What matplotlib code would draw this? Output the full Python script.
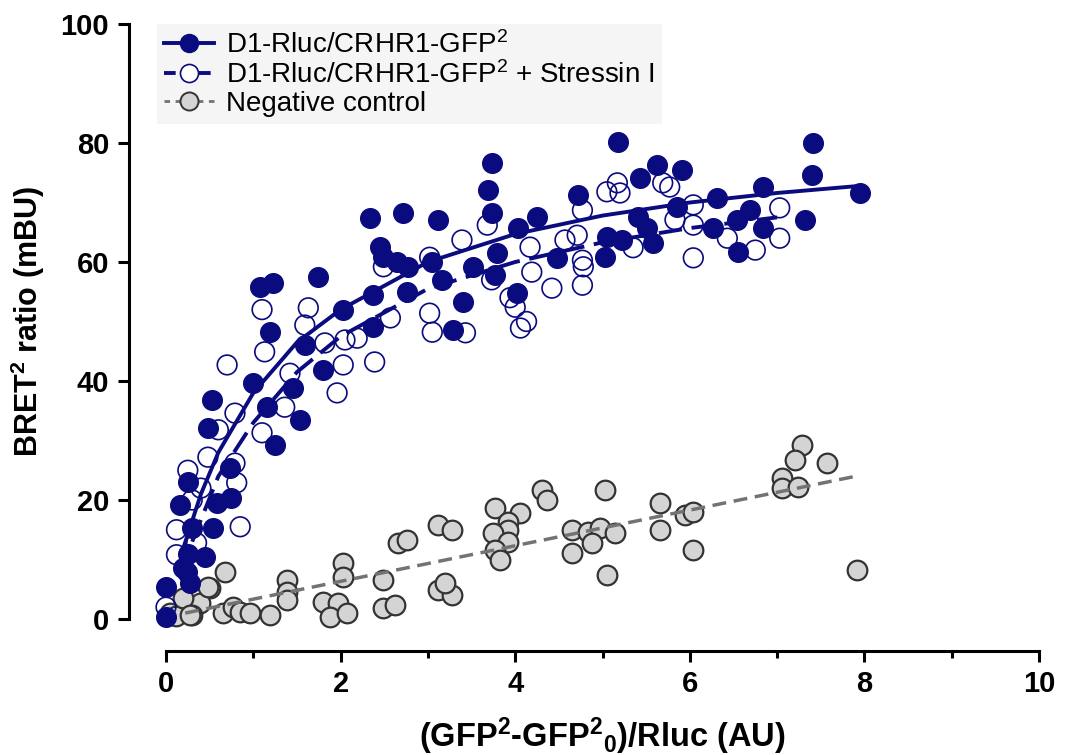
import numpy as np
import matplotlib
matplotlib.use('Agg')
import matplotlib.pyplot as plt
from matplotlib.lines import Line2D
from matplotlib.ticker import MultipleLocator

plt.rcParams['font.family'] = ['Liberation Sans', 'DejaVu Sans']
plt.rcParams['mathtext.default'] = 'regular'

# D1-Rluc/CRHR1-GFP2 (filled)
ctrl_x = [1.08, 1.23, 1.74, 1.19, 2.03, 1.59, 1.80, 1.00, 1.45, 0.53, 1.16, 1.53, 0.48, 1.25,
          0.73, 0.25, 0.75, 0.58, 0.16, 0.30, 0.54, 0.25, 0.45, 0.24, 0.00, 0.27, 0.00, 0.20,
          3.73, 3.69, 3.73, 2.34, 2.72, 3.12, 4.25, 4.03, 4.72, 2.45, 2.49, 2.65, 2.77, 3.05,
          3.16, 3.52, 3.79, 3.77, 4.48, 2.37, 2.76, 2.37, 3.40, 4.02, 3.29,
          5.18, 7.41, 5.62, 5.91, 5.43, 7.40, 6.84, 7.95, 6.31, 5.85, 6.69, 5.41, 6.54, 7.32,
          5.51, 6.27, 6.84, 5.05, 5.22, 5.58, 5.03, 6.55]
ctrl_y = [55.8, 56.5, 57.5, 48.2, 52.0, 46.0, 41.8, 39.7, 38.8, 36.8, 35.6, 33.4, 32.1, 29.2,
          25.4, 23.0, 20.3, 19.5, 19.2, 15.3, 15.3, 11.0, 10.4, 7.9, 5.4, 6.0, 0.3, 8.5,
          76.6, 72.1, 68.2, 67.4, 68.2, 67.1, 67.6, 65.7, 71.3, 62.5, 60.8, 60.0, 59.2, 60.0,
          57.0, 59.2, 61.5, 57.8, 60.7, 54.5, 55.0, 49.0, 53.3, 54.8, 48.6,
          80.2, 80.0, 76.3, 75.5, 74.1, 74.6, 72.6, 71.6, 70.8, 69.2, 68.7, 67.6, 67.1, 67.1,
          65.7, 65.7, 65.7, 64.2, 63.7, 63.2, 60.8, 61.7]

# + Stressin I (open)
str_x = [1.10, 1.63, 1.59, 1.13, 0.70, 1.82, 2.03, 1.96, 1.42, 1.36, 0.79, 0.60, 1.10, 0.48,
         0.79, 0.25, 0.81, 0.85, 0.12, 0.12, 0.35, 0.00, 0.30, 0.40,
         3.39, 3.68, 3.02, 4.17, 4.19, 4.42, 4.57, 2.49, 2.57, 3.02, 3.05, 3.43, 3.73, 3.94,
         4.00, 4.13, 4.06, 2.05, 2.39, 2.19,
         5.17, 5.05, 5.20, 5.69, 5.77, 6.04, 7.03, 5.83, 6.04, 6.43, 7.03, 5.35, 6.75, 6.04,
         4.77, 4.71, 4.77, 4.77, 4.78]
str_y = [52.0, 52.3, 49.4, 44.9, 42.7, 46.4, 42.7, 38.0, 41.3, 35.6, 34.6, 31.8, 31.3, 27.2,
         26.2, 25.0, 22.9, 15.5, 15.0, 10.8, 12.8, 2.0, 20.0, 22.0,
         63.7, 66.2, 60.8, 62.5, 58.3, 55.6, 63.7, 59.2, 50.6, 51.4, 48.2, 48.1, 57.0, 54.0,
         52.4, 50.0, 48.9, 46.9, 43.2, 47.2,
         73.3, 71.8, 71.6, 73.3, 72.6, 69.6, 69.1, 67.1, 66.2, 64.0, 64.0, 62.4, 62.0, 60.7,
         68.7, 64.5, 60.3, 56.1, 59.2]

# Negative control (grey)
neg_x = [0.68, 0.50, 0.39, 0.30, 0.65, 0.77, 0.85, 0.96, 1.19, 1.39, 1.39, 1.39, 2.03, 2.03,
         1.80, 1.97, 1.88, 2.07, 2.49, 2.49, 2.62, 2.66, 2.76, 3.12, 3.28, 3.12, 3.28, 3.20,
         3.77, 4.06, 3.92, 3.92, 3.75, 3.92, 3.77, 3.83, 4.31, 4.36,
         5.03, 4.65, 4.83, 4.97, 5.14, 4.88, 4.65, 5.05, 5.66, 5.66, 5.95, 6.04, 6.04,
         7.29, 7.20, 7.57, 7.06, 7.06, 7.24, 7.92, 0.05, 0.12, 0.20, 0.27, 0.48]
neg_y = [7.9, 5.2, 2.7, 0.7, 1.0, 2.0, 1.2, 1.0, 0.7, 6.6, 4.5, 3.2, 9.4, 7.1,
         2.9, 2.7, 0.3, 1.0, 6.6, 1.8, 2.4, 12.8, 13.3, 15.8, 15.0, 4.9, 4.0, 6.0,
         18.7, 17.8, 16.3, 15.0, 14.5, 13.0, 11.6, 9.9, 21.7, 20.0,
         21.7, 15.0, 14.6, 15.3, 14.5, 12.8, 11.1, 7.4, 19.5, 15.0, 17.5, 18.0, 11.6,
         29.2, 26.7, 26.2, 23.7, 22.0, 22.2, 8.2, 1.0, 0.5, 3.5, 0.7, 5.4]

# fitted curves
fit_ctrl_x = [0.2, 0.4, 0.6, 1.0, 1.5, 2.0, 3.0, 4.0, 5.0, 6.0, 7.0, 7.95]
fit_ctrl_y = [12.0, 21.0, 28.0, 38.0, 46.5, 52.0, 60.0, 64.7, 67.8, 70.0, 71.6, 72.8]
fit_str_x = [0.3, 0.6, 1.0, 1.5, 2.0, 3.0, 4.0, 5.0, 6.0, 7.0]
fit_str_y = [13.0, 24.0, 33.0, 41.5, 47.5, 55.5, 60.0, 63.3, 65.7, 67.5]
fit_neg_x = [0.22, 7.87]
fit_neg_y = [1.0, 23.9]

navy = '#0b0b80'
grey_fill = '#d4d4d4'
grey_edge = '#333333'
grey_line = '#737373'
ms = 200

fig = plt.figure(figsize=(10.65, 7.55), dpi=100)
ax = fig.add_axes([166/1065, 136/755, 873/1065, 595/755])

ax.scatter(neg_x, neg_y, s=ms, facecolor=grey_fill, edgecolor=grey_edge, linewidth=1.6,
           clip_on=False, zorder=2)
ax.plot(fit_neg_x, fit_neg_y, color=grey_line, lw=2.5, dashes=(4, 2.2), zorder=3)
ax.scatter(str_x, str_y, s=ms, facecolor='none', edgecolor=navy, linewidth=1.2,
           clip_on=False, zorder=4)
ax.plot(fit_str_x, fit_str_y, color=navy, lw=2.8, dashes=(6, 2.5), zorder=5)
ax.plot(fit_ctrl_x, fit_ctrl_y, color=navy, lw=2.8, zorder=5)
ax.scatter(ctrl_x, ctrl_y, s=ms, facecolor=navy, edgecolor=navy, linewidth=1,
           clip_on=False, zorder=6)

ax.set_xlim(0, 10)
ax.set_ylim(0, 100)
ax.spines['top'].set_visible(False)
ax.spines['right'].set_visible(False)
ax.spines['left'].set_position(('outward', 27))
ax.spines['bottom'].set_position(('outward', 23))
for s in ['left', 'bottom']:
    ax.spines[s].set_linewidth(2.2)
ax.xaxis.set_major_locator(MultipleLocator(2))
ax.xaxis.set_minor_locator(MultipleLocator(1))
ax.yaxis.set_major_locator(MultipleLocator(20))
ax.tick_params(which='major', length=8, width=2.2, labelsize=21, pad=6)
ax.tick_params(which='minor', length=5, width=2.2)
for lab in ax.get_xticklabels() + ax.get_yticklabels():
    lab.set_fontweight('bold')

ax.set_xlabel('(GFP$^2$-GFP$^2{}_0$)/Rluc (AU)', fontsize=23.5, fontweight='bold', labelpad=12)
ax.set_ylabel('BRET$^2$ ratio (mBU)', fontsize=22, fontweight='bold', labelpad=10)

handles = [
    Line2D([], [], color=navy, lw=2.8, marker='o', markersize=13, markerfacecolor=navy),
    Line2D([], [], color=navy, lw=2.8, ls=(0, (3, 1.5)), marker='o', markersize=13,
           markerfacecolor='white', markeredgewidth=1.2),
    Line2D([], [], color=grey_line, lw=2, ls=(0, (2, 2)), marker='o', markersize=13,
           markerfacecolor=grey_fill, markeredgecolor=grey_edge, markeredgewidth=1.4),
]
labels = ['D1-Rluc/CRHR1-GFP$^2$', 'D1-Rluc/CRHR1-GFP$^2$ + Stressin I', 'Negative control']
leg = fig.legend(handles, labels, loc='upper left', bbox_to_anchor=(143/1065, 1 - 10/755),
                 fontsize=20, frameon=True, facecolor='#f5f5f5', edgecolor='none',
                 framealpha=1, fancybox=False, handlelength=1.8, handletextpad=0.45,
                 labelspacing=0.08, borderpad=0.25)

fig.savefig('out.png', dpi=100)
